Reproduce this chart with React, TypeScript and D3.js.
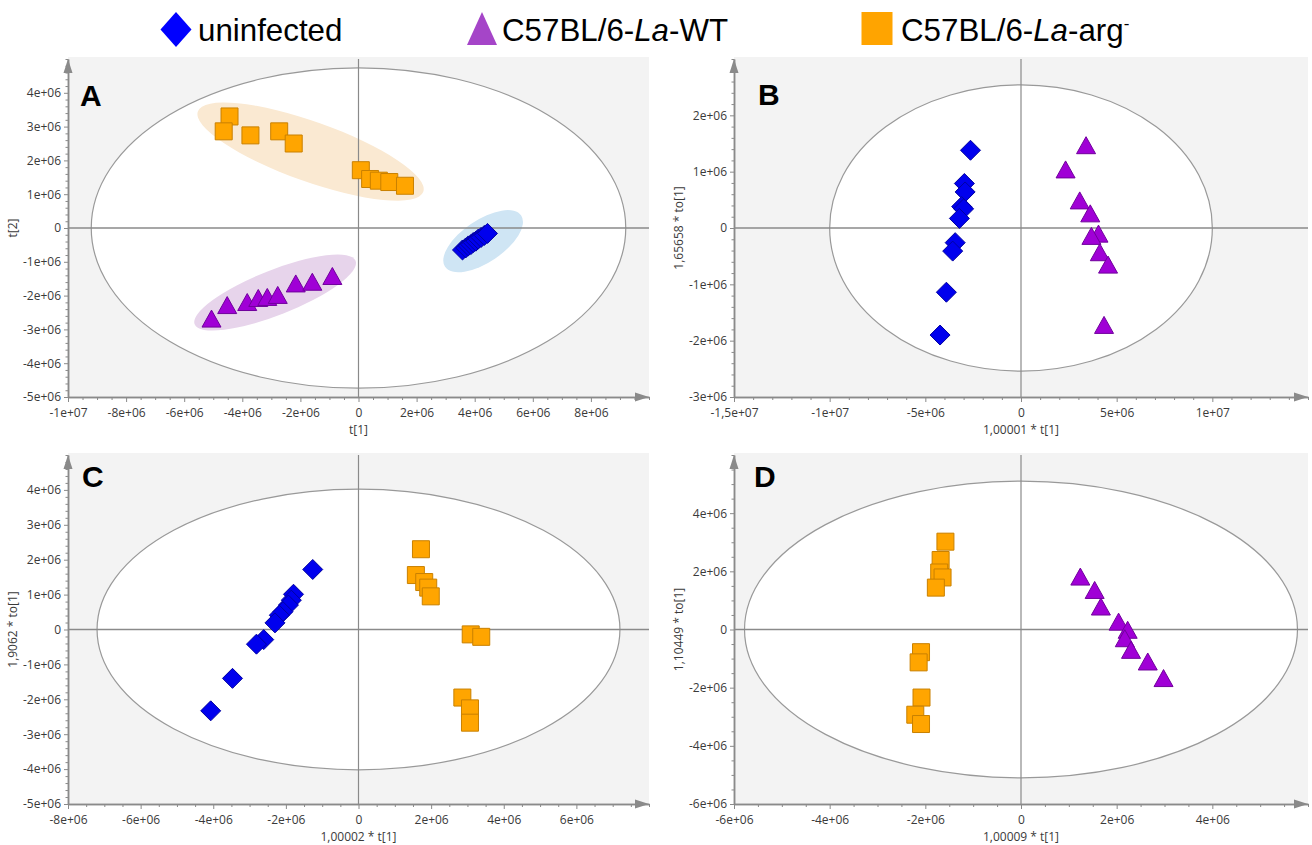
import React, { useEffect, useRef } from "react";
import * as d3 from "d3";

const width = 1312;
const height = 845;

// score values, in units of 1e6
const aUninfected = [
  [3.58, -0.65], [3.69, -0.59], [3.78, -0.53], [3.87, -0.49], [3.95, -0.43],
  [4.04, -0.39], [4.12, -0.33], [4.22, -0.28], [4.33, -0.22], [4.44, -0.16],
];
const aWT = [
  [-5.06, -2.68], [-4.52, -2.28], [-3.83, -2.19], [-3.45, -2.07], [-3.14, -2.04],
  [-2.78, -1.98], [-2.16, -1.64], [-1.59, -1.59], [-0.9, -1.42],
];
const aArg = [
  [-4.44, 3.3], [-4.64, 2.86], [-3.72, 2.74], [-2.73, 2.86], [-2.23, 2.5],
  [0.08, 1.71], [0.4, 1.45], [0.7, 1.4], [1.06, 1.36], [1.6, 1.25],
];
const bUninfected = [
  [-2.64, 1.38], [-2.96, 0.79], [-2.92, 0.64], [-3.1, 0.38], [-3.0, 0.34],
  [-3.22, 0.17], [-3.44, -0.26], [-3.57, -0.41], [-3.9, -1.14], [-4.23, -1.9],
];
const bWT = [
  [3.4, 1.47], [2.33, 1.04], [3.07, 0.49], [3.62, 0.26], [4.05, -0.1],
  [3.68, -0.14], [4.12, -0.43], [4.55, -0.65], [4.34, -1.72],
];
const cUninfected = [
  [-1.26, 1.72], [-1.79, 1.01], [-1.85, 0.84], [-1.93, 0.7], [-2.08, 0.51],
  [-2.18, 0.41], [-2.3, 0.19], [-2.61, -0.29], [-2.81, -0.42], [-3.47, -1.4],
  [-4.07, -2.33],
];
const cArg = [
  [1.72, 2.3], [1.58, 1.56], [1.81, 1.36], [1.92, 1.2], [1.99, 0.95],
  [3.09, -0.14], [3.38, -0.21], [2.86, -1.95], [3.07, -2.26], [3.07, -2.67],
];
const dArg = [
  [-1.58, 3.02], [-1.68, 2.39], [-1.71, 1.96], [-1.64, 1.79], [-1.78, 1.44],
  [-2.09, -0.78], [-2.14, -1.13], [-2.08, -2.34], [-2.21, -2.93], [-2.09, -3.25],
];
const dWT = [
  [1.24, 1.82], [1.54, 1.36], [1.67, 0.79], [2.04, 0.27], [2.23, -0.01],
  [2.17, -0.3], [2.3, -0.7], [2.65, -1.1], [2.98, -1.67],
];

// Hotelling T2 ellipse radii (x, y)
const aT2 = [9.2, 4.74];
const bT2 = [10, 2.54];
const cT2 = [7.2, 4.02];
const dT2 = [5.78, 5.1];

// group ellipses in panel A: center, end of major axis, minor/major ratio
const aGroupEllipses = [
  { group: "arg", center: [-1.65, 2.26], vertex: [2.23, 1.07], ratio: 0.25 },
  { group: "wt", center: [-2.87, -1.91], vertex: [-0.1, -0.97], ratio: 0.26 },
  { group: "uninfected", center: [4.29, -0.39], vertex: [5.6, 0.37], ratio: 0.46 },
];

// tick values
const aXTicks = [-10, -8, -6, -4, -2, 0, 2, 4, 6, 8];
const aYTicks = [-5, -4, -3, -2, -1, 0, 1, 2, 3, 4];
const bXTicks = [-15, -10, -5, 0, 5, 10];
const bYTicks = [-3, -2, -1, 0, 1, 2];
const cXTicks = [-8, -6, -4, -2, 0, 2, 4, 6];
const cYTicks = [-5, -4, -3, -2, -1, 0, 1, 2, 3, 4];
const dXTicks = [-6, -4, -2, 0, 2, 4];
const dYTicks = [-6, -4, -2, 0, 2, 4];

const colors = {
  uninfected: { fill: "#0000ee", stroke: "#0000a0", legend: "#0000ff", soft: "#cfe5f4" },
  wt: { fill: "#a000d6", stroke: "#70009c", legend: "#a545c8", soft: "#e7d4eb" },
  arg: { fill: "#ffa500", stroke: "#c98000", legend: "#ffa400", soft: "#fae9d2" },
};

const shapes = {
  uninfected: "M0,-10L10,0L0,10L-10,0Z",
  wt: "M0,-8.5L9.5,8.5L-9.5,8.5Z",
  arg: "M-8.5,-8.5H8.5V8.5H-8.5Z",
};

const panels = [
  {
    letter: "A", xr: [68, 649], yr: [59, 397], letterAt: [12, 47],
    xDomain: [-10, 10], yDomain: [-5, 5], xTicks: aXTicks, yTicks: aYTicks,
    xMinor: 0.5, yMinor: 0.2, t2: aT2, xTitle: "t[1]", yTitle: "t[2]",
    groups: aGroupEllipses,
    series: [
      { group: "arg", points: aArg },
      { group: "wt", points: aWT },
      { group: "uninfected", points: aUninfected },
    ],
  },
  {
    letter: "B", xr: [734, 1308], yr: [59, 397], letterAt: [24, 46],
    xDomain: [-15, 15], yDomain: [-3, 3], xTicks: bXTicks, yTicks: bYTicks,
    xMinor: 1, yMinor: 0.2, t2: bT2, xTitle: "1,00001 * t[1]", yTitle: "1,65658 * to[1]",
    groups: [],
    series: [
      { group: "uninfected", points: bUninfected },
      { group: "wt", points: bWT },
    ],
  },
  {
    letter: "C", xr: [68, 649], yr: [455, 804], letterAt: [14, 32],
    xDomain: [-8, 8], yDomain: [-5, 5], xTicks: cXTicks, yTicks: cYTicks,
    xMinor: 0.5, yMinor: 0.2, t2: cT2, xTitle: "1,00002 * t[1]", yTitle: "1,9062 * to[1]",
    groups: [],
    series: [
      { group: "uninfected", points: cUninfected },
      { group: "arg", points: cArg },
    ],
  },
  {
    letter: "D", xr: [734, 1308], yr: [455, 804], letterAt: [20, 32],
    xDomain: [-6, 6], yDomain: [-6, 6], xTicks: dXTicks, yTicks: dYTicks,
    xMinor: 0.5, yMinor: 0.5, t2: dT2, xTitle: "1,00009 * t[1]", yTitle: "1,10449 * to[1]",
    groups: [],
    series: [
      { group: "arg", points: dArg },
      { group: "wt", points: dWT },
    ],
  },
];

const legendItems = [
  { group: "uninfected", parts: [["uninfected", false]], sup: "" },
  { group: "wt", parts: [["C57BL/6-", false], ["La", true], ["-WT", false]], sup: "" },
  { group: "arg", parts: [["C57BL/6-", false], ["La", true], ["-arg", false]], sup: "-" },
];

const axisGray = "#8a8a8a";
const labelFont = "'Open Sans', 'Noto Sans', sans-serif";

// 1e6 units -> "-1,5e+07" style
const fmt = (v) => {
  if (Math.abs(v) < 1e-9) return "0";
  const real = v * 1e6;
  const exp = Math.floor(Math.log10(Math.abs(real)) + 1e-9);
  const mant = Math.round((real / Math.pow(10, exp)) * 1000) / 1000;
  return `${String(mant).replace(".", ",")}e+${String(exp).padStart(2, "0")}`;
};

const minorTicks = (domain, step, majors) =>
  d3
    .range(0, Math.round((domain[1] - domain[0]) / step) + 1)
    .map((i) => Math.round((domain[0] + i * step) * 1000) / 1000)
    .filter((v) => !majors.some((m) => Math.abs(m - v) < 1e-6));

function drawPanel(svg, p) {
  const x = d3.scaleLinear().domain(p.xDomain).range(p.xr);
  const y = d3.scaleLinear().domain(p.yDomain).range([p.yr[1], p.yr[0]]);
  const g = svg.append("g");

  g.append("rect")
    .attr("x", p.xr[0])
    .attr("y", p.yr[0] - 2)
    .attr("width", p.xr[1] - p.xr[0])
    .attr("height", p.yr[1] - p.yr[0] + 2)
    .attr("fill", "#f3f3f3");

  g.append("ellipse")
    .attr("cx", x(0))
    .attr("cy", y(0))
    .attr("rx", x(p.t2[0]) - x(0))
    .attr("ry", y(0) - y(p.t2[1]))
    .attr("fill", "#fff")
    .attr("stroke", "#999")
    .attr("stroke-width", 1.2);

  p.groups.forEach((e) => {
    const cx = x(e.center[0]);
    const cy = y(e.center[1]);
    const vx = x(e.vertex[0]);
    const vy = y(e.vertex[1]);
    const a = Math.hypot(vx - cx, vy - cy);
    const ang = (Math.atan2(vy - cy, vx - cx) * 180) / Math.PI;
    g.append("ellipse")
      .attr("rx", a)
      .attr("ry", a * e.ratio)
      .attr("transform", `translate(${cx},${cy}) rotate(${ang})`)
      .attr("fill", colors[e.group].soft);
  });

  // zero lines
  g.append("line")
    .attr("x1", p.xr[0]).attr("x2", p.xr[1])
    .attr("y1", y(0)).attr("y2", y(0))
    .attr("stroke", axisGray).attr("stroke-width", 1.5);
  g.append("line")
    .attr("x1", x(0)).attr("x2", x(0))
    .attr("y1", p.yr[0]).attr("y2", p.yr[1])
    .attr("stroke", axisGray).attr("stroke-width", 1.2);

  p.series.forEach((s) => {
    g.append("g")
      .selectAll("path")
      .data(s.points)
      .join("path")
      .attr("transform", (d) => `translate(${x(d[0])},${y(d[1])})`)
      .attr("d", shapes[s.group])
      .attr("fill", colors[s.group].fill)
      .attr("stroke", colors[s.group].stroke)
      .attr("stroke-width", 1);
  });

  // axes
  const styleAxis = (sel) => {
    sel.select(".domain").attr("stroke", axisGray).attr("stroke-width", 1.5);
    sel.selectAll(".tick line").attr("stroke", axisGray);
    sel.selectAll("text")
      .attr("fill", "#3a3a3a")
      .style("font-family", labelFont)
      .style("font-size", "12px");
    sel.attr("font-family", null).attr("font-size", null);
  };

  g.append("g")
    .attr("transform", `translate(0,${p.yr[1]})`)
    .call(d3.axisBottom(x).tickValues(minorTicks(p.xDomain, p.xMinor, p.xTicks)).tickFormat(() => "").tickSize(3).tickSizeOuter(0))
    .call(styleAxis);
  g.append("g")
    .attr("transform", `translate(0,${p.yr[1]})`)
    .call(d3.axisBottom(x).tickValues(p.xTicks).tickFormat(fmt).tickSize(5).tickSizeOuter(0).tickPadding(6))
    .call(styleAxis);
  g.append("g")
    .attr("transform", `translate(${p.xr[0]},0)`)
    .call(d3.axisLeft(y).tickValues(minorTicks(p.yDomain, p.yMinor, p.yTicks)).tickFormat(() => "").tickSize(2.5).tickSizeOuter(0))
    .call(styleAxis);
  g.append("g")
    .attr("transform", `translate(${p.xr[0]},0)`)
    .call(d3.axisLeft(y).tickValues(p.yTicks).tickFormat(fmt).tickSize(4).tickSizeOuter(0).tickPadding(3))
    .call(styleAxis);

  // arrow heads
  g.append("path")
    .attr("d", `M${p.xr[0] - 4.5},${p.yr[0] + 14}L${p.xr[0]},${p.yr[0]}L${p.xr[0] + 4.5},${p.yr[0] + 14}Z`)
    .attr("fill", axisGray);
  g.append("path")
    .attr("d", `M${p.xr[1] - 14},${p.yr[1] - 4.5}L${p.xr[1]},${p.yr[1]}L${p.xr[1] - 14},${p.yr[1] + 4.5}Z`)
    .attr("fill", axisGray);

  // titles
  g.append("text")
    .attr("x", (p.xr[0] + p.xr[1]) / 2)
    .attr("y", p.yr[1] + 37)
    .attr("text-anchor", "middle")
    .attr("fill", "#3a3a3a")
    .style("font-family", labelFont)
    .style("font-size", "12px")
    .text(p.xTitle);
  g.append("text")
    .attr("transform", `translate(${p.xr[0] - 51},${(p.yr[0] + p.yr[1]) / 2}) rotate(-90)`)
    .attr("text-anchor", "middle")
    .attr("fill", "#3a3a3a")
    .style("font-family", labelFont)
    .style("font-size", "12px")
    .text(p.yTitle);

  g.append("text")
    .attr("x", p.xr[0] + p.letterAt[0])
    .attr("y", p.yr[0] + p.letterAt[1])
    .attr("fill", "#000")
    .style("font-family", "'Liberation Sans', Arial, sans-serif")
    .style("font-weight", "bold")
    .style("font-size", "30px")
    .text(p.letter);
}

function drawLegend(svg) {
  const markerX = [176, 482, 877];
  const textX = [198, 502, 901];
  const lg = svg.append("g");
  legendItems.forEach((item, i) => {
    const c = colors[item.group].legend;
    const mx = markerX[i];
    if (item.group === "uninfected") {
      lg.append("path").attr("d", `M${mx},12L${mx + 15.5},29.5L${mx},47L${mx - 15.5},29.5Z`).attr("fill", c);
    } else if (item.group === "wt") {
      lg.append("path").attr("d", `M${mx},12L${mx + 15},45L${mx - 15},45Z`).attr("fill", c);
    } else {
      lg.append("rect").attr("x", mx - 15.5).attr("y", 12).attr("width", 31).attr("height", 33).attr("fill", c);
    }
    const t = lg
      .append("text")
      .attr("x", textX[i])
      .attr("y", 41)
      .attr("fill", "#000")
      .style("font-family", "'Liberation Sans', Arial, sans-serif")
      .style("font-size", "31.3px");
    item.parts.forEach(([s, it]) => {
      t.append("tspan").style("font-style", it ? "italic" : "normal").text(s);
    });
    if (item.sup) {
      t.append("tspan").attr("dy", -12).style("font-size", "17px").text(item.sup);
    }
  });
}

export default function App() {
  const ref = useRef(null);
  useEffect(() => {
    const svg = d3.select(ref.current);
    svg.selectAll("*").remove();
    drawLegend(svg);
    panels.forEach((p) => drawPanel(svg, p));
  }, []);

  return (
    <svg
      ref={ref}
      width={width}
      height={height}
      style={{ position: "absolute", left: 0, top: 0, background: "#fff" }}
    />
  );
}
